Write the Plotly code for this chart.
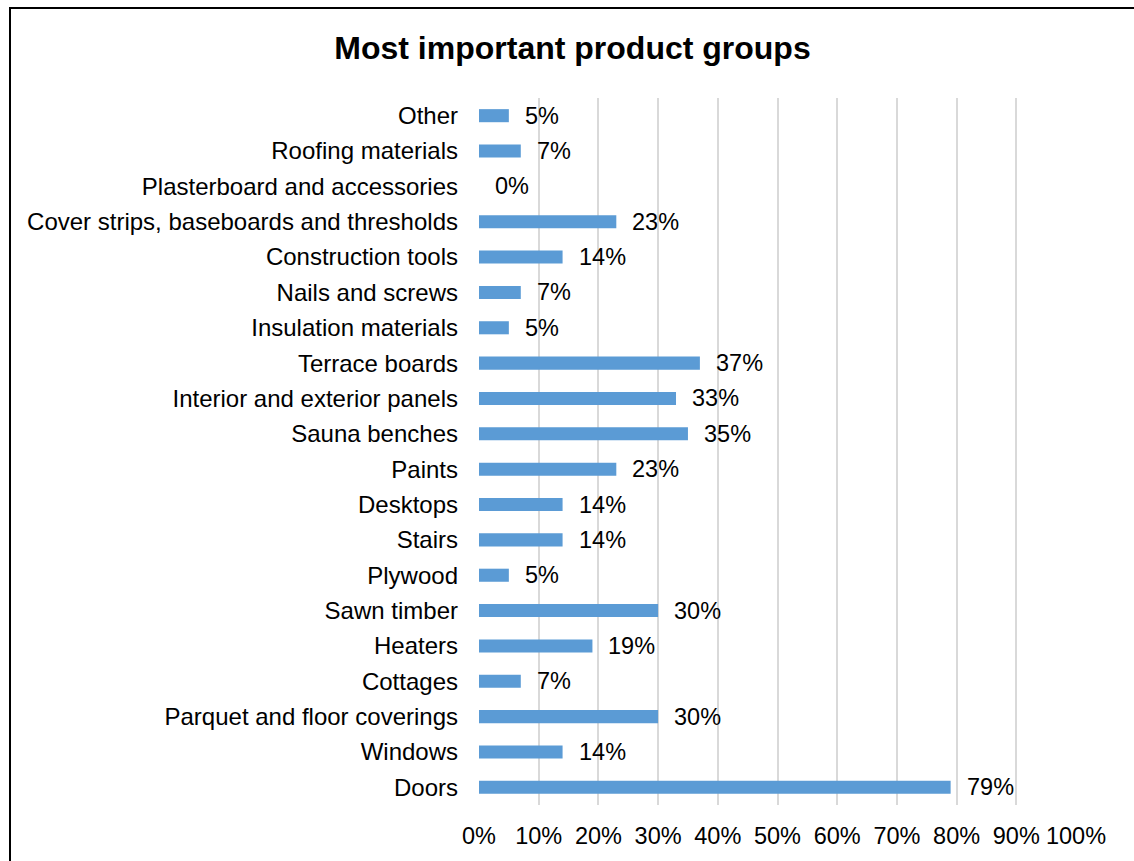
import plotly.graph_objects as go

# Product groups, listed top to bottom as shown
categories = [
    "Other",
    "Roofing materials",
    "Plasterboard and accessories",
    "Cover strips, baseboards and thresholds",
    "Construction tools",
    "Nails and screws",
    "Insulation materials",
    "Terrace boards",
    "Interior and exterior panels",
    "Sauna benches",
    "Paints",
    "Desktops",
    "Stairs",
    "Plywood",
    "Sawn timber",
    "Heaters",
    "Cottages",
    "Parquet and floor coverings",
    "Windows",
    "Doors",
]
shares = [5, 7, 0, 23, 14, 7, 5, 37, 33, 35, 23, 14, 14, 5, 30, 19, 7, 30, 14, 79]
tick_values = [0, 10, 20, 30, 40, 50, 60, 70, 80, 90, 100]
tick_labels = [f"{t}%" for t in tick_values]

W, H = 1134, 861
ML, MR, MT, MB = 479, 58, 98, 56
FONT = "Liberation Sans, Arial, sans-serif"

fig = go.Figure(
    go.Bar(
        x=shares,
        y=categories,
        orientation="h",
        marker=dict(color="#5B9BD5", line=dict(width=0)),
        hoverinfo="x+y",
    )
)

# Value labels to the right of each bar
for cat, v in zip(categories, shares):
    fig.add_annotation(
        x=v, y=cat, text=f"{v}%", showarrow=False,
        xanchor="left", yanchor="middle", xshift=14,
        font=dict(family=FONT, size=23.5, color="#000000"),
    )

# Outer chart frame (extends past the right and bottom edges)
pw, ph = W - ML - MR, H - MT - MB
def px_x(p):
    return (p - ML) / pw
def px_y(p):
    return (H - MB - p) / ph

fig.add_shape(
    type="rect", xref="paper", yref="paper",
    x0=px_x(10), x1=px_x(W + 20), y0=px_y(H + 20), y1=px_y(8),
    line=dict(color="#000000", width=2), fillcolor="rgba(0,0,0,0)", layer="above",
)

fig.update_layout(
    width=W, height=H,
    margin=dict(l=ML, r=MR, t=MT, b=MB, pad=0),
    paper_bgcolor="#ffffff", plot_bgcolor="#ffffff",
    bargap=0.63,
    showlegend=False,
    font=dict(family=FONT, size=24, color="#000000"),
    title=dict(
        text="<b>Most important product groups</b>",
        font=dict(family=FONT, size=32, color="#000000"),
        xref="container", yref="container",
        x=572.5 / W, y=1 - 48 / H, xanchor="center", yanchor="middle",
    ),
    xaxis=dict(
        range=[0, 100],
        tickvals=tick_values, ticktext=tick_labels,
        showgrid=True, gridcolor="#D9D9D9", gridwidth=1.5,
        zeroline=False, showline=False, ticks="",
        ticklabelstandoff=14,
        tickfont=dict(family=FONT, size=23.5, color="#000000"),
    ),
    yaxis=dict(
        autorange="reversed",
        showgrid=False, zeroline=False, showline=False, ticks="",
        ticklabelstandoff=20,
        tickfont=dict(family=FONT, size=24, color="#000000"),
    ),
)

fig.write_html("out.html")
